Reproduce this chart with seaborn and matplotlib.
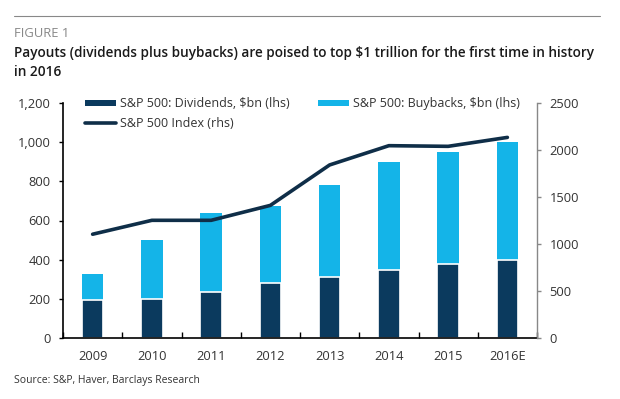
import numpy as np
import pandas as pd
import seaborn as sns
import matplotlib
matplotlib.use("Agg")
import matplotlib.pyplot as plt
from matplotlib.patches import Patch
from matplotlib.lines import Line2D

years = ["2009", "2010", "2011", "2012", "2013", "2014", "2015", "2016E"]
dividends = [195, 200, 236, 279, 310, 349, 379, 400]
buybacks = [133, 302, 403, 394, 472, 549, 570, 600]
sp_index = [1104, 1252, 1252, 1411, 1841, 2046, 2039, 2134]
left_ticks = [0, 200, 400, 600, 800, 1000, 1200]
left_tick_labels = ["0", "200", "400", "600", "800", "1,000", "1,200"]
right_ticks = [0, 500, 1000, 1500, 2000, 2500]

NAVY = "#0b3a5e"
LIGHT = "#14b4e8"
LINE = "#0f2e48"
TXT = "#333333"

sns.set_theme(style="white")
plt.rcParams["font.family"] = ["Open Sans", "DejaVu Sans"]

df = pd.DataFrame({"year": years, "div": dividends, "buy": buybacks,
                   "idx": sp_index})
df["total"] = df["div"] + df["buy"]

fig = plt.figure(figsize=(6.2, 3.99), dpi=100)
ax = fig.add_axes([63 / 620, 1 - 338 / 399, (537 - 63) / 620, (338 - 103) / 399])

sns.barplot(data=df, x="year", y="total", color=LIGHT, saturation=1,
            width=0.36, ax=ax, linewidth=0)
sns.barplot(data=df, x="year", y="div", color=NAVY, saturation=1,
            width=0.36, ax=ax, edgecolor="white", linewidth=1.2)

ax2 = ax.twinx()
sns.lineplot(x=np.arange(len(years)), y=df["idx"], color=LINE, linewidth=2.6,
             ax=ax2)

ax.set_xlim(-0.5, len(years) - 0.5)
ax.set_ylim(0, 1200)
ax2.set_ylim(0, 2500)
ax.set_yticks(left_ticks)
ax.set_yticklabels(left_tick_labels)
ax2.set_yticks(right_ticks)
ax2.set_yticklabels([str(t) for t in right_ticks])
ax.set_xlabel("")
ax.set_ylabel("")
ax2.set_xlabel("")
ax2.set_ylabel("")

ax.set_xticks(np.arange(len(years)))
ax.set_xticklabels(years)
ax.set_xticks(np.arange(len(years) + 1) - 0.5, minor=True)
ax.tick_params(axis="x", which="major", length=0, pad=9, labelsize=9.3, labelcolor=TXT)
ax.tick_params(axis="x", which="minor", direction="in", length=4, width=1, color="black", bottom=True)
ax.tick_params(axis="y", left=True, direction="out", length=3, width=1, color="black",
               labelsize=9.3, labelcolor=TXT, pad=6)
ax2.tick_params(axis="y", right=True, direction="out", length=3, width=1, color="#888888",
                labelsize=9.3, labelcolor=TXT, pad=6)

for a in (ax, ax2):
    a.spines["top"].set_visible(False)
    a.grid(False)
ax.spines["left"].set_color("black")
ax.spines["left"].set_linewidth(1.2)
ax.spines["bottom"].set_color("black")
ax.spines["bottom"].set_linewidth(1.2)
ax.spines["right"].set_visible(False)
ax2.spines["left"].set_visible(False)
ax2.spines["bottom"].set_visible(False)
ax2.spines["right"].set_color("#888888")
ax2.spines["right"].set_linewidth(1.0)

handles = [Patch(facecolor=NAVY, edgecolor="none"),
           Line2D([0], [0], color=LINE, linewidth=2.6),
           Patch(facecolor=LIGHT, edgecolor="none")]
labels = ["S&P 500: Dividends, $bn (lhs)", "S&P 500 Index (rhs)",
          "S&P 500: Buybacks, $bn (lhs)"]
ax2.legend(handles, labels, ncol=2, frameon=False, loc="upper left",
           bbox_to_anchor=(0.035, 1.045), fontsize=9, handlelength=2.5,
           handleheight=0.4, handletextpad=0.3, columnspacing=2.3,
           labelspacing=0.55, borderaxespad=0, labelcolor=TXT)

fig.add_artist(Line2D([14 / 620, 600 / 620], [1 - 16 / 399, 1 - 16 / 399],
                      color="#888888", linewidth=0.8))
fig.text(14 / 620, 1 - 37 / 399, "FIGURE 1", fontsize=9.4, color="#888888",
         va="baseline", ha="left")
fig.text(14 / 620, 1 - 57.5 / 399,
         "Payouts (dividends plus buybacks) are poised to top $1 trillion for the first time in history",
         fontsize=9.8, color="#1a1a1a", va="baseline", ha="left", weight="semibold")
fig.text(14 / 620, 1 - 76 / 399, "in 2016", fontsize=9.8, color="#1a1a1a",
         va="baseline", ha="left", weight="semibold")
fig.text(14 / 620, 1 - 381 / 399, "Source: S&P, Haver, Barclays Research",
         fontsize=7.5, color="#333333", va="center", ha="left")

fig.savefig("out.png", dpi=100, facecolor="white")
